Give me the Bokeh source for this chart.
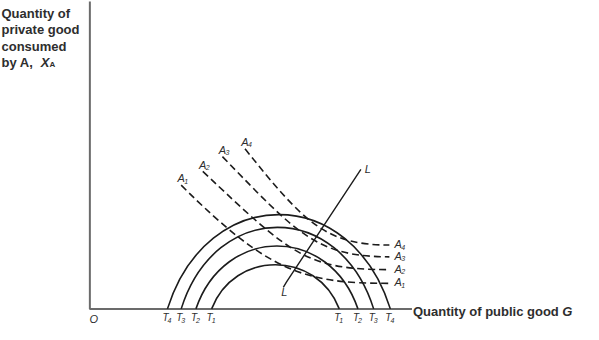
from bokeh.plotting import figure
from bokeh.models import Range1d
from bokeh.core.properties import value
from bokeh.embed import file_html
from bokeh.resources import INLINE

# ---- data (schematic units: G to the right, X_A upward) ----
g_axis_end = 328          # length of the public-good axis
xa_axis_end = 313         # length of the private-good axis

# Transformation curves T1..T4: left/right intercepts on the G axis and peak height
t_sub = ["1", "2", "3", "4"]
t_left = [124, 108, 93, 79]
t_right = [254, 273, 289, 306]
t_peak = [45, 64, 83, 96]

# Indifference curves A1..A4 (start, two control points, end)
a_sub = ["1", "2", "3", "4"]
a_start_x = [93, 115, 135, 158]
a_start_y = [126, 140, 155, 163]
a_c1_x = [183, 205, 210, 218]
a_c1_y = [36, 55, 78, 88]
a_c2_x = [220, 220, 230, 240]
a_c2_y = [26, 40, 53, 65]
a_end_x = [305, 305, 305, 305]
a_end_y = [26, 40, 53, 65]

# Locus of tangencies L
l_x = [197, 200, 276]
l_y = [22, 27, 142]

# y-axis label lines
ylab_lines = ["Quantity of", "private good", "consumed", "by A,"]
ylab_y = [300.5, 284, 267.5, 251]
xlab_text = "Quantity of public good"

FONT = value("Liberation Sans")
INK = "#1c1c1c"
TXT = "#2e2e2e"

p = figure(width=583, height=324, x_range=Range1d(-91.0, 502.7), y_range=Range1d(-15.9, 314.0),
           output_backend="svg", toolbar_location=None,
           x_axis_location=None, y_axis_location=None, min_border=0)
p.outline_line_color = None
p.xgrid.visible = False
p.ygrid.visible = False
p.background_fill_color = "white"

# axes
p.line(x=[0, 0, g_axis_end], y=[xa_axis_end, 0, 0], line_color="#6b6b6b", line_width=2)

# transformation curves (cubic Bezier through intercepts)
cx0, cx1, cy = [], [], []
for L, R, h in zip(t_left, t_right, t_peak):
    a = (R - L) / 2.0
    cx0.append(L + 0.355 * a)
    cx1.append(R - 0.355 * a)
    cy.append(h * 4.0 / 3.0)
p.bezier(x0=t_left, y0=[0] * 4, x1=t_right, y1=[0] * 4,
         cx0=cx0, cy0=cy, cx1=cx1, cy1=cy, line_color=INK, line_width=1.6)

# indifference curves (dashed)
p.bezier(x0=a_start_x, y0=a_start_y, x1=a_end_x, y1=a_end_y,
         cx0=a_c1_x, cy0=a_c1_y, cx1=a_c2_x, cy1=a_c2_y,
         line_color=INK, line_width=1.6, line_dash="7 4")

# locus L
p.line(x=l_x, y=l_y, line_color=INK, line_width=1.4)

# ---- texts ----
# y-axis label
p.text(x=[-90] * 4, y=ylab_y, text=ylab_lines, text_font=FONT, text_font_style="bold",
       text_font_size="13px", text_color=TXT, text_align="left", text_baseline="alphabetic")
p.text(x=[-50], y=[ylab_y[-1]], text=["X"], text_font=FONT, text_font_style="bold italic",
       text_font_size="13px", text_color=TXT, text_align="left", text_baseline="alphabetic")
p.text(x=[-41], y=[ylab_y[-1]], text=["A"], text_font=FONT, text_font_style="bold",
       text_font_size="8px", text_color=TXT, text_align="left", text_baseline="alphabetic",
       y_offset=2)

# x-axis label
p.text(x=[g_axis_end + 1], y=[-2.5], text=[xlab_text], text_font=FONT, text_font_style="bold",
       text_font_size="13px", text_color=TXT, text_align="left", text_baseline="middle")
p.text(x=[g_axis_end + 153], y=[-2.5], text=["G"], text_font=FONT, text_font_style="bold italic",
       text_font_size="13px", text_color=TXT, text_align="left", text_baseline="middle")

# origin
p.text(x=[4], y=[-10.5], text=["O"], text_font=FONT, text_font_style="italic",
       text_font_size="11px", text_color=TXT, text_align="center", text_baseline="middle")

# T labels at the intercepts
tl_x = t_left[::-1] + t_right
tl_sub = t_sub[::-1] + t_sub
p.text(x=[v - 2 for v in tl_x], y=[-8.5] * 8, text=["T"] * 8, text_font=FONT, text_font_style="italic",
       text_font_size="10px", text_color=TXT, text_align="center", text_baseline="middle")
p.text(x=[v - 2 for v in tl_x], y=[-8.5] * 8, text=tl_sub, text_font=FONT, text_font_style="italic",
       text_font_size="7px", text_color=TXT, text_align="left", text_baseline="middle",
       x_offset=2, y_offset=3)

# A labels at curve starts (upper left) and ends (right)
p.text(x=a_start_x, y=[v + 7 for v in a_start_y], text=["A"] * 4, text_font=FONT,
       text_font_style="italic", text_font_size="11px", text_color=TXT,
       text_align="center", text_baseline="middle")
p.text(x=a_start_x, y=[v + 7 for v in a_start_y], text=a_sub, text_font=FONT,
       text_font_style="italic", text_font_size="7px", text_color=TXT,
       text_align="left", text_baseline="middle", x_offset=3, y_offset=3)
p.text(x=[v + 9 for v in a_end_x], y=[v + 1 for v in a_end_y], text=["A"] * 4, text_font=FONT,
       text_font_style="italic", text_font_size="11px", text_color=TXT,
       text_align="center", text_baseline="middle")
p.text(x=[v + 9 for v in a_end_x], y=[v + 1 for v in a_end_y], text=a_sub, text_font=FONT,
       text_font_style="italic", text_font_size="7px", text_color=TXT,
       text_align="left", text_baseline="middle", x_offset=3, y_offset=3)

# L labels
p.text(x=[l_x[-1] + 7, l_x[0] + 1], y=[l_y[-1], l_y[0] - 5], text=["L", "L"], text_font=FONT,
       text_font_style="italic", text_font_size="11px", text_color=TXT,
       text_align="center", text_baseline="middle")

open("out.html", "w").write(file_html(p, INLINE))
